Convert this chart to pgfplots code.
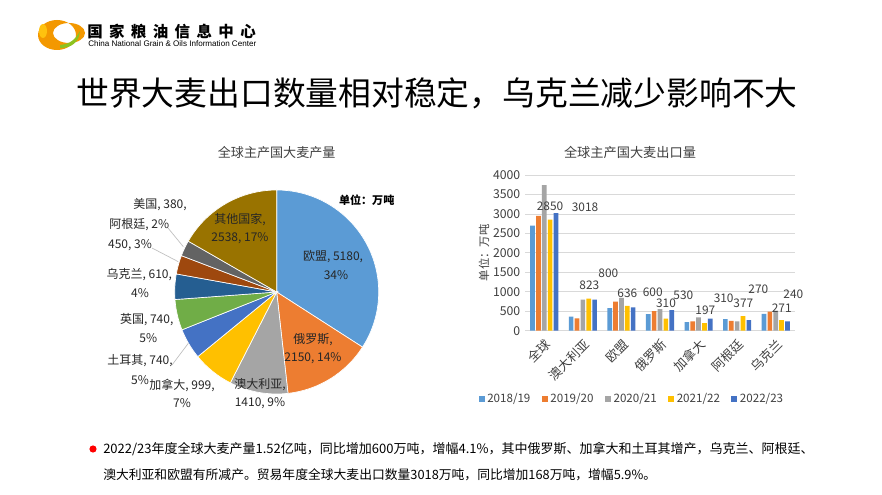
\documentclass[border=0pt]{standalone}
\usepackage{fontspec}
\setmainfont{Noto Sans CJK SC}
\newfontfamily\arialfont{Liberation Sans}
\usepackage{graphicx}
\usepackage{pgfplots}
\usepackage{pgfplotstable}
\pgfplotsset{compat=1.18}

\definecolor{cEU}{HTML}{5B9BD5}
\definecolor{cRU}{HTML}{ED7D31}
\definecolor{cAU}{HTML}{A5A5A5}
\definecolor{cCA}{HTML}{FFC000}
\definecolor{cTR}{HTML}{4472C4}
\definecolor{cUK}{HTML}{70AD47}
\definecolor{cUA}{HTML}{255E91}
\definecolor{cAR}{HTML}{9E480E}
\definecolor{cUS}{HTML}{636363}
\definecolor{cOT}{HTML}{997300}
\definecolor{txt}{HTML}{404040}
\definecolor{gridc}{HTML}{D9D9D9}
\definecolor{leader}{HTML}{BFBFBF}
\definecolor{logoO}{HTML}{F39800}
\definecolor{logoY}{HTML}{FFC20E}
\definecolor{logoG}{HTML}{8DC21F}

\newcommand\fs[1]{\fontsize{#1}{#1}\selectfont}

% production, 10k t (pie, clockwise from top)
\def\piedata{5180/cEU,2150/cRU,1410/cAU,999/cCA,740/cTR,740/cUK,610/cUA,450/cAR,380/cUS,2538/cOT}

% exports, 10k t
\pgfplotstableread{
x  a    b    c    d    e
0  2700 2950 3740 2850 3018
1  360  318  795  823  800
2  580  745  846  636  600
3  425  505  556  310  530
4  222  240  342  197  310
5  300  255  240  377  270
6  435  487  513  271  240
}\exporttab

\begin{document}
\begin{tikzpicture}[x=0.75pt,y=-0.75pt]
\fill[white] (0,0) rectangle (882,495);
\useasboundingbox (0,0) rectangle (882,495);

% logo
\fill[logoO,even odd rule] (57,35) ellipse [x radius=19, y radius=15]
  (69,33) ellipse [x radius=16, y radius=10];
\fill[logoY] (43,31) ellipse [x radius=4, y radius=7];
\fill[logoG] (60,48) .. controls (72,48) and (79,42) .. (80,31)
  .. controls (75,40) and (70,44) .. (60,45) -- cycle;
\node[anchor=west,inner sep=0pt] at (87,32) {\fs{11.6}\bfseries
  国\hspace{4.8pt}家\hspace{4.8pt}粮\hspace{4.8pt}油\hspace{4.8pt}信\hspace{4.8pt}息\hspace{4.8pt}中\hspace{4.8pt}心};
\node[anchor=west,inner sep=0pt] at (88,43.5) {\resizebox{126pt}{!}{\arialfont China National Grain \& Oils Information Center}};

% title
\node[inner sep=0pt] at (437,93) {\fs{24.6}世界大麦出口数量相对稳定，乌克兰减少影响不大};

% ---------- pie ----------
\coordinate (pieC) at (276.7,292);
\pgfmathsetmacro\pietotal{0}
\foreach \v/\c in \piedata {\pgfmathparse{\pietotal+\v}\xdef\pietotal{\pgfmathresult}}
\begin{axis}[at={(pieC)}, anchor=center, scale only axis, width=153pt, height=153pt,
  xmin=-1, xmax=1, ymin=-1, ymax=1, hide axis, clip=false]
  \xdef\piecum{0}
  \foreach \v/\c in \piedata {
    \pgfmathsetmacro\sa{90-360*(\piecum/\pietotal)}
    \pgfmathsetmacro\ea{90-360*((\piecum+\v)/\pietotal)}
    \edef\tmp{\noexpand\fill[\c,draw=white,line width=0.5pt] (axis cs:0,0) -- ++(\sa:76.5pt) arc[start angle=\sa,end angle=\ea,radius=76.5pt] -- cycle;}
    \tmp
    \pgfmathparse{\piecum+\v}\xdef\piecum{\pgfmathresult}
  }
\end{axis}

\node at (276.7,152.7) {\fs{9.8}\color{txt}全球主产国大麦产量};
\node at (366.7,200) {\fs{8.3}\bfseries 单位：万吨};
\begin{scope}[every node/.style={inner sep=0pt, font=\fs{9}, text=black!85}]
  \node at (240,220) {其他国家,};
  \node at (240,238.5) {2538, 17\%};
  \node at (333,257) {欧盟, 5180,};
  \node at (336,275.5) {34\%};
  \node at (313,340) {俄罗斯,};
  \node at (313,358.5) {2150, 14\%};
  \node at (260,385) {澳大利亚,};
  \node at (260,403) {1410, 9\%};
  \node at (182,385) {加拿大, 999,};
  \node at (182,403) {7\%};
  \node at (140,361) {土耳其, 740,};
  \node at (140,380) {5\%};
  \node at (146.7,320) {英国, 740,};
  \node at (148.3,338.5) {5\%};
  \node at (139.3,275) {乌克兰, 610,};
  \node at (140,293.5) {4\%};
  \node at (160,205) {美国, 380,};
  \node at (139.3,224.5) {阿根廷, 2\%};
  \node at (130,245) {450, 3\%};
\end{scope}
\draw[leader,line width=0.5pt] (168,228) -- (183.3,246.7);
\draw[leader,line width=0.5pt] (152,248) -- (178.3,261.7);
\draw[leader,line width=0.5pt] (172,365) -- (188.3,343.3);

% ---------- bars ----------
\coordinate (barSW) at (525,330.7);
\begin{axis}[at={(barSW)}, anchor=south west, scale only axis,
  width=202.5pt, height=116.8pt,
  ybar=0.9pt, bar width=3.5pt,
  xmin=-0.5, xmax=6.5, ymin=0, ymax=4000,
  xtick={0,...,6},
  xticklabels={全球,澳大利亚,欧盟,俄罗斯,加拿大,阿根廷,乌克兰},
  xticklabel shift=4pt,
  xticklabel style={rotate=45, anchor=north east, font=\fs{9.5}, text=txt, inner sep=1pt},
  ytick={0,500,...,4000},
  yticklabel style={font=\fs{9.2}, text=txt},
  /pgf/number format/assume math mode=true, /pgf/number format/1000 sep={},
  ymajorgrids, grid style={gridc, line width=0.6pt},
  axis x line*=bottom, axis y line*=left,
  x axis line style={gridc, line width=0.6pt, -},
  y axis line style={draw=none},
  major tick length=0pt,
  ylabel={单位：万吨},
  ylabel style={font=\fs{8.5}, text=txt, at={(axis description cs:-0.152,0.5)}, anchor=center},
  legend columns=5,
  legend style={draw=none, fill=none, at={(axis description cs:0.397,-0.4387)}, anchor=center,
    font=\fs{8.7}, text=txt, inner sep=0pt,
    /tikz/every even column/.append style={column sep=6.5pt}},
  legend image code/.code={\fill[#1] (0pt,-2.2pt) rectangle (4.5pt,2.2pt);},
]
  \addplot[fill=cEU, draw=none] table[x=x,y=a]{\exporttab};
  \addplot[fill=cRU, draw=none] table[x=x,y=b]{\exporttab};
  \addplot[fill=cAU, draw=none] table[x=x,y=c]{\exporttab};
  \addplot[fill=cCA, draw=none] table[x=x,y=d]{\exporttab};
  \addplot[fill=cTR, draw=none] table[x=x,y=e]{\exporttab};
  \legend{2018/19,2019/20,2020/21,2021/22,2022/23}
\end{axis}

\node at (630,152.7) {\fs{9.9}\color{txt}全球主产国大麦出口量};
\begin{scope}[every node/.style={inner sep=0pt, font=\fs{8.9}, text=txt}]
  \node at (550,206.7) {2850};
  \node at (585,207.3) {3018};
  \node at (589.3,285) {823};
  \node at (608.3,273.3) {800};
  \node at (627.3,293.3) {636};
  \node at (652.7,292.3) {600};
  \node at (666,303.3) {310};
  \node at (683.3,295) {530};
  \node at (705.3,310) {197};
  \node at (723.7,298.3) {310};
  \node at (743.3,303.3) {377};
  \node at (758.3,289) {270};
  \node at (781.7,308.3) {271};
  \node at (793.3,294.3) {240};
\end{scope}

% ---------- footnote ----------
\fill[red] (93,449) circle [radius=3.6];
\node[anchor=west,inner sep=0pt] at (103,449) {\fs{9.75}2022/23年度全球大麦产量1.52亿吨，同比增加600万吨，增幅4.1\%，其中俄罗斯、加拿大和土耳其增产，乌克兰、阿根廷、};
\node[anchor=west,inner sep=0pt] at (103,474.5) {\fs{9.6}澳大利亚和欧盟有所减产。贸易年度全球大麦出口数量3018万吨，同比增加168万吨，增幅5.9\%。};
\end{tikzpicture}
\end{document}
